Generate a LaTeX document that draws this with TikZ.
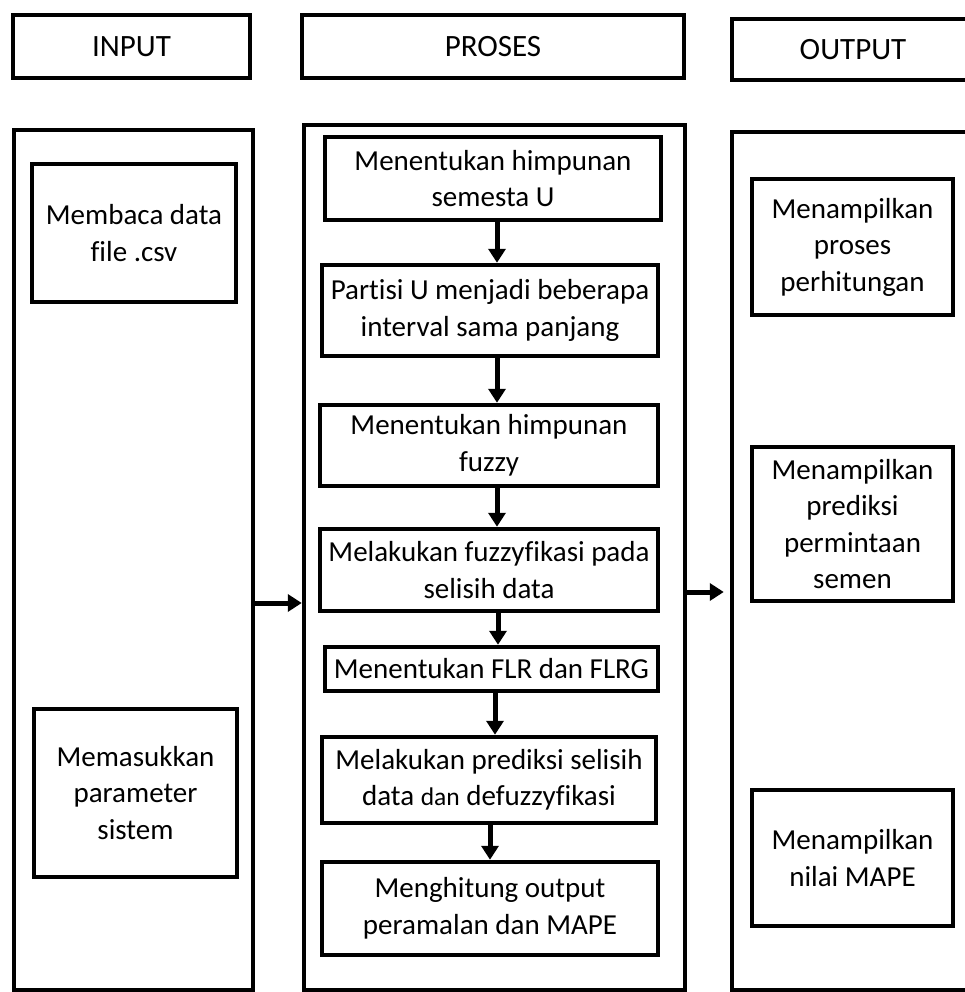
\documentclass[tikz,border=0pt]{standalone}
\usepackage{fontspec}
\setmainfont[Ligatures={NoCommon}]{Carlito}
\usetikzlibrary{arrows.meta}
\begin{document}
\begin{tikzpicture}[x=1pt,y=-1pt,
  frame/.style={draw, line width=4.5pt, inner sep=0pt, align=center},
  header/.style={frame, font=\fontsize{31}{36}\selectfont},
  column/.style={draw, line width=4.5pt, inner sep=0pt},
  stepbox/.style={frame, font=\fontsize{29}{36.5}\selectfont},
  arr/.style={line width=5pt, -{Triangle[length=14pt,width=17pt]}}]
\useasboundingbox (0,0) rectangle (965,992);
\begin{scope}
\clip (0,0) rectangle (965,992);

% column headers
\node[header, minimum width=237pt, minimum height=63pt] (hin)  at (131.5,46.5) {INPUT};
\node[header, minimum width=382pt, minimum height=63pt] (hpro) at (493,46.5) {PROSES};
\node[header, minimum width=242pt, minimum height=61pt] (hout) at (853,49.5) {OUTPUT};

% column frames
\node[column, minimum width=239pt, minimum height=860pt] (cin)  at (133.5,560) {};
\node[column, minimum width=381pt, minimum height=865pt] (cpro) at (494.5,557.5) {};
\node[column, minimum width=242pt, minimum height=858pt] (cout) at (853,561) {};

% input steps
\node[stepbox, minimum width=204pt, minimum height=138pt] (in1) at (134,233) {Membaca data\\file .csv};
\node[stepbox, minimum width=203pt, minimum height=168pt] (in2) at (135.5,793) {Memasukkan\\parameter\\sistem};

% process steps
\node[stepbox, minimum width=336pt, minimum height=83pt] (p1) at (493,178.5) {Menentukan himpunan\\semesta U};
\node[stepbox, minimum width=336pt, minimum height=91pt] (p2) at (490,310.5) {Partisi U menjadi beberapa\\interval sama panjang};
\node[stepbox, minimum width=338pt, minimum height=81pt] (p3) at (489,445.5) {Menentukan himpunan\\fuzzy};
\node[stepbox, minimum width=338pt, minimum height=82pt] (p4) at (489,570) {Melakukan fuzzyfikasi pada\\selisih data};
\node[stepbox, minimum width=333pt, minimum height=44pt] (p5) at (491.5,669) {Menentukan FLR dan FLRG};
\node[stepbox, minimum width=334pt, minimum height=86pt] (p6) at (489,780) {Melakukan prediksi selisih\\data {\fontsize{25.5}{36.5}\selectfont dan} defuzzyfikasi};
\node[stepbox, minimum width=336pt, minimum height=93pt] (p7) at (490,908.5) {Menghitung output\\peramalan dan MAPE};

% output steps
\node[stepbox, minimum width=201pt, minimum height=136pt] (o1) at (852.5,247) {Menampilkan\\proses\\perhitungan};
\node[stepbox, minimum width=201pt, minimum height=154pt] (o2) at (852.5,524) {Menampilkan\\prediksi\\permintaan\\semen};
\node[stepbox, minimum width=201pt, minimum height=136pt] (o3) at (852.5,858) {Menampilkan\\nilai MAPE};

% flow inside the process column
\draw[arr] ([xshift=4pt]p1.south)   -- ([xshift=7pt]p2.north);
\draw[arr] ([xshift=7pt]p2.south)   -- ([xshift=8pt]p3.north);
\draw[arr] ([xshift=8pt]p3.south)   -- ([xshift=8pt]p4.north);
\draw[arr] ([xshift=9pt]p4.south)   -- ([xshift=6.5pt]p5.north);
\draw[arr] ([xshift=3.5pt]p5.south) -- ([xshift=6pt]p6.north);
\draw[arr] ([xshift=1pt]p6.south)   -- (p7.north);

% flow between the columns
\draw[arr] ([yshift=-43pt]cin.east) -- ([yshift=-45.5pt]cpro.west);
\draw[arr, shorten >=6pt] ([yshift=-34.5pt]cpro.east) -- ([yshift=-31pt]cout.west);
\end{scope}
\end{tikzpicture}
\end{document}
